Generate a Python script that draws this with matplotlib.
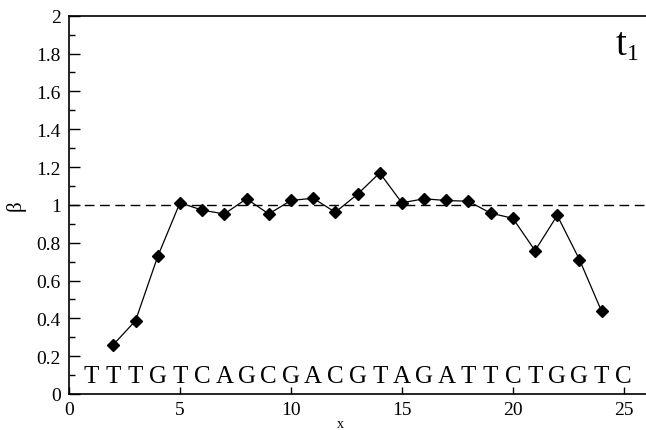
import matplotlib
matplotlib.use("Agg")
import matplotlib.pyplot as plt
from matplotlib.ticker import MultipleLocator, FuncFormatter

positions = [2, 3, 4, 5, 6, 7, 8, 9, 10, 11, 12, 13, 14, 15, 16, 17, 18, 19, 20, 21, 22, 23, 24]
beta = [0.261, 0.388, 0.728, 1.011, 0.972, 0.952, 1.032, 0.952, 1.023, 1.035, 0.961, 1.056,
        1.169, 1.011, 1.032, 1.023, 1.019, 0.956, 0.929, 0.758, 0.944, 0.711, 0.437]
sequence = "TTTGTCAGCGACGTAGATTCTGGTC"
reference_level = 1.0

plt.rcParams['font.family'] = ['Liberation Serif', 'DejaVu Serif']

fig = plt.figure(figsize=(6.46, 4.31), dpi=100)
ax = fig.add_axes([69/646, 1 - 395/431, 1 - 69/646, (395 - 16.7)/431])

ax.axhline(reference_level, color='black', lw=1.0, ls=(0, (7, 4)))
ax.plot(positions, beta, color='black', lw=0.9, marker='D', ms=6.6,
        mfc='black', mec='black')

for i, ch in enumerate(sequence):
    ax.text(i + 1, 0.095, ch, ha='center', va='center', fontsize=18)

# panel label t with subscript 1
ax.text((626 - 69) / 577, (395 - 55) / 378.3, 't', transform=ax.transAxes,
        fontsize=28, ha='right', va='baseline')
ax.text((627 - 69) / 577, (395 - 60) / 378.3, '1', transform=ax.transAxes,
        fontsize=17, ha='left', va='baseline')

ax.set_xlim(0, 26)
ax.set_ylim(0, 2)
ax.xaxis.set_major_locator(MultipleLocator(5))
ax.yaxis.set_major_locator(MultipleLocator(0.2))
ax.yaxis.set_minor_locator(MultipleLocator(0.1))
ax.yaxis.set_major_formatter(FuncFormatter(lambda v, p: '%g' % round(v, 1)))

ax.tick_params(axis='both', which='both', direction='in', top=False, right=False,
               labelsize=14)
ax.tick_params(axis='y', which='major', length=8, width=1, pad=6)
ax.tick_params(axis='y', which='minor', length=4.5, width=1)
ax.tick_params(axis='x', which='major', length=5, width=1, pad=5)
ax.tick_params(axis='x', which='minor', bottom=False)

for s in ['left', 'bottom', 'top']:
    ax.spines[s].set_linewidth(1.2)
ax.spines['right'].set_visible(False)

ax.set_ylabel('β', fontsize=15, rotation=90, va='center')
ax.yaxis.set_label_coords(-0.092, 0.5)
ax.set_xlabel('x', fontsize=10, va='center')
ax.xaxis.set_label_coords(0.47, -0.077)

fig.savefig('out.png', dpi=100)
